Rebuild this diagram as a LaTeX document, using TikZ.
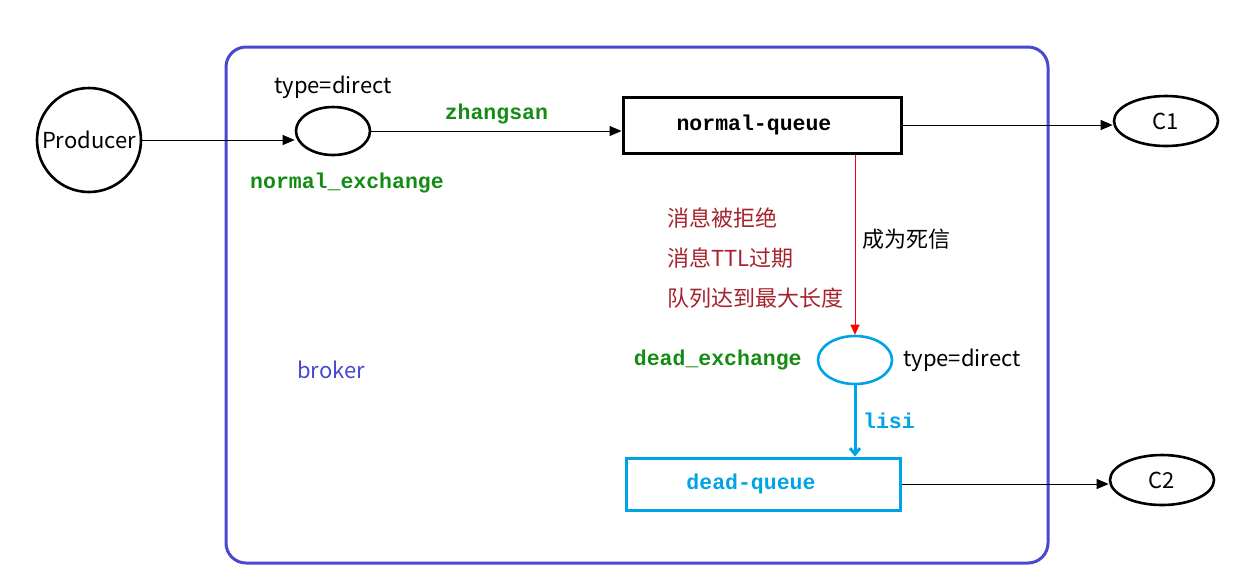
\documentclass[tikz,border=0pt]{standalone}
\usepackage{fontspec}
\setmainfont{Noto Sans CJK SC}
\setmonofont{Liberation Mono}
\usetikzlibrary{shapes.geometric, positioning, arrows.meta}

\definecolor{brokerblue}{RGB}{72,72,208}
\definecolor{deadcyan}{RGB}{0,164,230}
\definecolor{keygreen}{RGB}{20,140,20}
\definecolor{reasonred}{RGB}{165,35,45}

\begin{document}
\begin{tikzpicture}[
    x=0.5pt, y=-0.5pt,
    >={Triangle[length=6pt, width=5pt]},
    every node/.style={font=\fontsize{11}{13}\selectfont},
    exch/.style={draw, ellipse, line width=1.3pt, minimum width=37pt, minimum height=24pt, inner sep=0pt},
    queue/.style={draw, rectangle, line width=1.5pt, minimum width=139pt, minimum height=28pt,
        font=\ttfamily\bfseries\fontsize{10.75}{13}\selectfont},
    consumer/.style={draw, ellipse, line width=1.3pt, minimum width=52pt, minimum height=25pt, inner sep=0pt},
    keyname/.style={font=\ttfamily\bfseries\fontsize{10.75}{13}\selectfont, text=keygreen},
    link/.style={draw, ->, line width=0.5pt}
]
    \useasboundingbox (0,0) rectangle (1253,586);

    % --- BROKER FRAME ---
    \draw[brokerblue, line width=1.5pt, rounded corners=10pt] (226,47) rectangle (1048,563);
    \node[text=brokerblue] (broker) at (331,370) {broker};

    % --- PRODUCER & NORMAL SIDE ---
    \node[draw, circle, line width=1.3pt, minimum size=52pt, inner sep=0pt] (prod) at (89,140) {Producer};

    \node[exch] (nx) at (333,131) {};
    \node[above=0pt of nx] (nxtype) {type=direct};
    \node[keyname, below=5pt of nx, xshift=7pt] (nxname) {normal\_exchange};

    \node[queue] (nq) at (762,125) {\hspace*{-8pt}normal-queue};
    \node[consumer] (c1) at (1166,121) {C1};

    % --- DEAD LETTER SIDE ---
    \node[exch, draw=deadcyan] (dx) at (855,360) {};
    \node[keyname, left=4pt of dx] (dxname) {dead\_exchange};
    \node[right=1.5pt of dx] (dxtype) {type=direct};

    \node[queue, draw=deadcyan, text=deadcyan, minimum width=137pt, minimum height=26pt] (dq) at (763,484) {\hspace*{-12pt}dead-queue};
    \node[consumer] (c2) at (1162,480) {C2};

    % reasons
    \node[align=left, anchor=west, text=reasonred, font=\fontsize{11}{20}\selectfont] (why) at (660,258)
        {消息被拒绝\\消息TTL过期\\队列达到最大长度};

    % --- FLOW ---
    \draw[link] (prod.east) -- (prod.east -| nx.west);
    \draw[link] (nx.east) -- node[keyname, above] (rkey1) {zhangsan} (nx.east -| nq.west);
    \draw[link] (nq.east) -- (nq.east -| c1.west);

    \draw[red, line width=0.5pt, -{Triangle[length=5pt, width=4.5pt]}] (dx.north |- nq.south) -- node[right, pos=0.47, text=black] (dead) {成为死信} (dx.north);
    \draw[deadcyan, line width=1.5pt, -{Straight Barb[length=3pt, width=5pt]}] (dx.south) -- node[keyname, text=deadcyan, right] (rkey2) {lisi} (dx.south |- dq.north);

    \draw[link] (dq.east) -- (dq.east -| c2.west);

\end{tikzpicture}
\end{document}
